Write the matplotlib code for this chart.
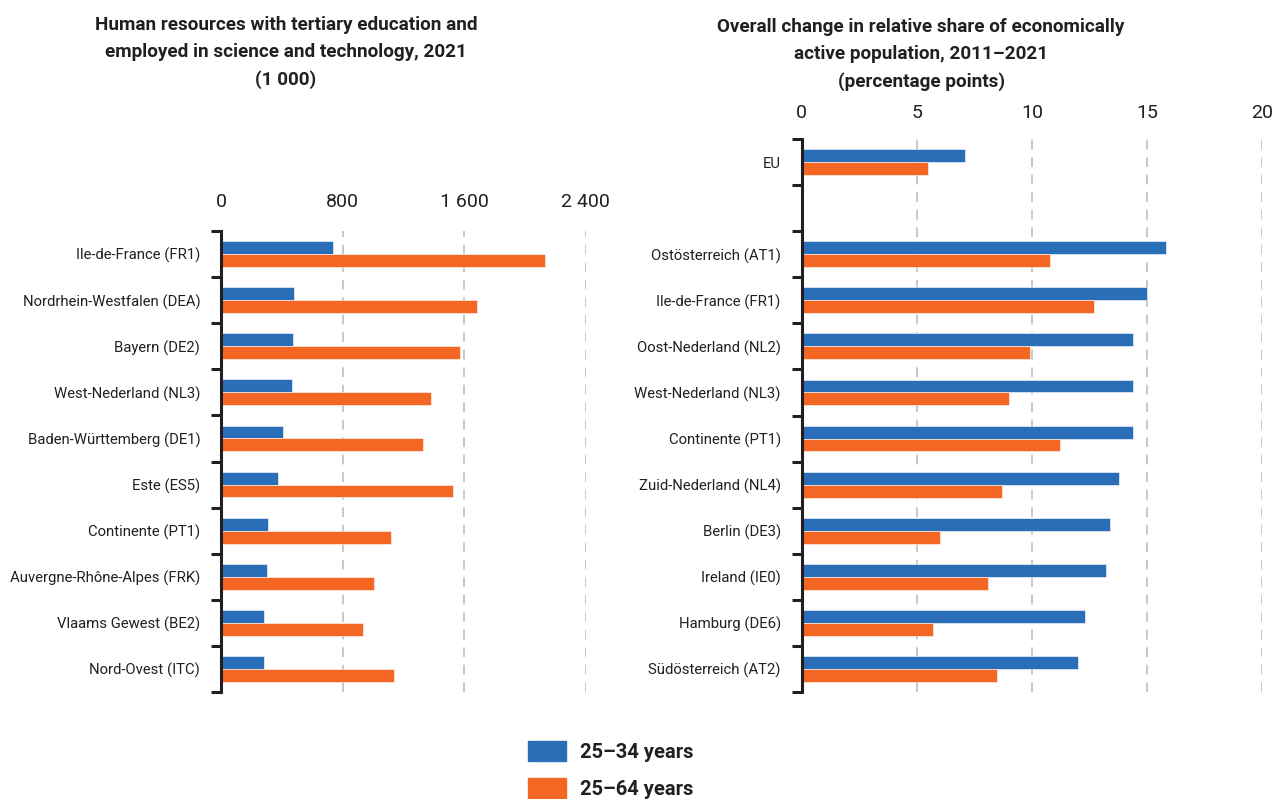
import matplotlib
matplotlib.use("Agg")
import matplotlib.pyplot as plt
import matplotlib.patches as mpatches
from matplotlib.ticker import FixedLocator, FuncFormatter
import numpy as np

# ---------------- data ----------------
left_regions = ["Ile-de-France (FR1)", "Nordrhein-Westfalen (DEA)", "Bayern (DE2)",
                "West-Nederland (NL3)", "Baden-Württemberg (DE1)", "Este (ES5)",
                "Continente (PT1)", "Auvergne-Rhône-Alpes (FRK)", "Vlaams Gewest (BE2)",
                "Nord-Ovest (ITC)"]
left_25_34 = [739, 482, 475, 469, 409, 376, 310, 300, 286, 286]
left_25_64 = [2130, 1683, 1571, 1380, 1327, 1525, 1120, 1005, 937, 1137]
left_ticks = [0, 800, 1600, 2400]

right_eu_label = "EU"
right_eu_25_34 = 7.1
right_eu_25_64 = 5.5
right_regions = ["Ostösterreich (AT1)", "Ile-de-France (FR1)", "Oost-Nederland (NL2)",
                 "West-Nederland (NL3)", "Continente (PT1)", "Zuid-Nederland (NL4)",
                 "Berlin (DE3)", "Ireland (IE0)", "Hamburg (DE6)", "Südösterreich (AT2)"]
right_25_34 = [15.8, 15.0, 14.4, 14.4, 14.4, 13.8, 13.4, 13.2, 12.3, 12.0]
right_25_64 = [10.8, 12.7, 9.9, 9.0, 11.2, 8.7, 6.0, 8.1, 5.7, 8.5]
right_ticks = [0, 5, 10, 15, 20]

series_labels = ["25–34 years", "25–64 years"]
left_title = "Human resources with tertiary education and\nemployed in science and technology, 2021\n(1 000)"
right_title = "Overall change in relative share of economically\nactive population, 2011–2021\n(percentage points)"

# ---------------- style ----------------
BLUE = "#2A6EB8"
ORANGE = "#F36624"
TXT = "#231F20"
GRID = "#C8C8C8"
plt.rcParams["font.family"] = ["Roboto", "DejaVu Sans"]

W, H = 1272, 799
fig = plt.figure(figsize=(W / 100, H / 100), dpi=100)


def px_axes(x0, x1, ytop, ybot):
    return fig.add_axes([x0 / W, 1 - ybot / H, (x1 - x0) / W, (ybot - ytop) / H])


def style_axes(ax, labels, n_slots, ticks, fmt, pad):
    ax.set_ylim(n_slots - 0.5, -0.5)
    ax.set_xlim(ticks[0], ticks[-1])
    for s in ["top", "right", "bottom"]:
        ax.spines[s].set_visible(False)
    ax.spines["left"].set_linewidth(2.2)
    ax.spines["left"].set_color(TXT)
    ax.yaxis.set_major_locator(FixedLocator(list(range(n_slots))))
    ax.set_yticklabels(labels)
    ax.yaxis.set_minor_locator(FixedLocator([i - 0.5 for i in range(n_slots + 1)]))
    ax.tick_params(axis="y", which="major", length=0, pad=15, labelsize=10.7, labelcolor=TXT)
    ax.tick_params(axis="y", which="minor", length=7, width=2.2, color=TXT)
    ax.xaxis.tick_top()
    ax.set_xticks(ticks)
    ax.xaxis.set_major_formatter(FuncFormatter(fmt))
    ax.tick_params(axis="x", length=0, pad=pad, labelsize=14, labelcolor=TXT)
    for t in ticks[1:]:
        ax.axvline(t, color=GRID, lw=1.4, ls=(0, (5, 4)), zorder=0)


bh = 0.28

# ---------------- left chart ----------------
axL = px_axes(221, 585.7, 231, 692)
yL = np.arange(len(left_regions))
axL.barh(yL - bh / 2, left_25_34, height=bh, color=BLUE, edgecolor="white", linewidth=0.4, zorder=2)
axL.barh(yL + bh / 2, left_25_64, height=bh, color=ORANGE, edgecolor="white", linewidth=0.4, zorder=2)
style_axes(axL, left_regions, len(left_regions), left_ticks,
           lambda v, p: f"{int(v):,}".replace(",", " "), 14.5)

# ---------------- right chart ----------------
axR = px_axes(801.5, 1262.3, 139, 692)
right_labels = [right_eu_label, ""] + right_regions
yR = np.arange(2, 2 + len(right_regions))
axR.barh([0 - bh / 2], [right_eu_25_34], height=bh, color=BLUE, edgecolor="white", linewidth=0.4, zorder=2)
axR.barh([0 + bh / 2], [right_eu_25_64], height=bh, color=ORANGE, edgecolor="white", linewidth=0.4, zorder=2)
axR.barh(yR - bh / 2, right_25_34, height=bh, color=BLUE, edgecolor="white", linewidth=0.4, zorder=2)
axR.barh(yR + bh / 2, right_25_64, height=bh, color=ORANGE, edgecolor="white", linewidth=0.4, zorder=2)
style_axes(axR, right_labels, len(right_labels), right_ticks,
           lambda v, p: f"{int(v)}", 12)

# ---------------- titles ----------------
fig.text(286 / W, 1 - 15.5 / H, left_title, ha="center", va="top", fontsize=13.6,
         fontweight="bold", color=TXT, linespacing=1.65)
fig.text(921 / W, 1 - 18 / H, right_title, ha="center", va="top", fontsize=13.6,
         fontweight="bold", color=TXT, linespacing=1.65)

# ---------------- legend ----------------
handles = [mpatches.Patch(color=BLUE), mpatches.Patch(color=ORANGE)]
fig.legend(handles, series_labels, loc="upper left",
           bbox_to_anchor=(528 / W, 1 - 741 / H), frameon=False,
           prop={"weight": "bold", "size": 14.5}, handlelength=1.9, handleheight=1.15,
           handletextpad=0.7, labelspacing=0.8, borderpad=0, borderaxespad=0,
           labelcolor=TXT)

fig.savefig("out.png", dpi=100)
